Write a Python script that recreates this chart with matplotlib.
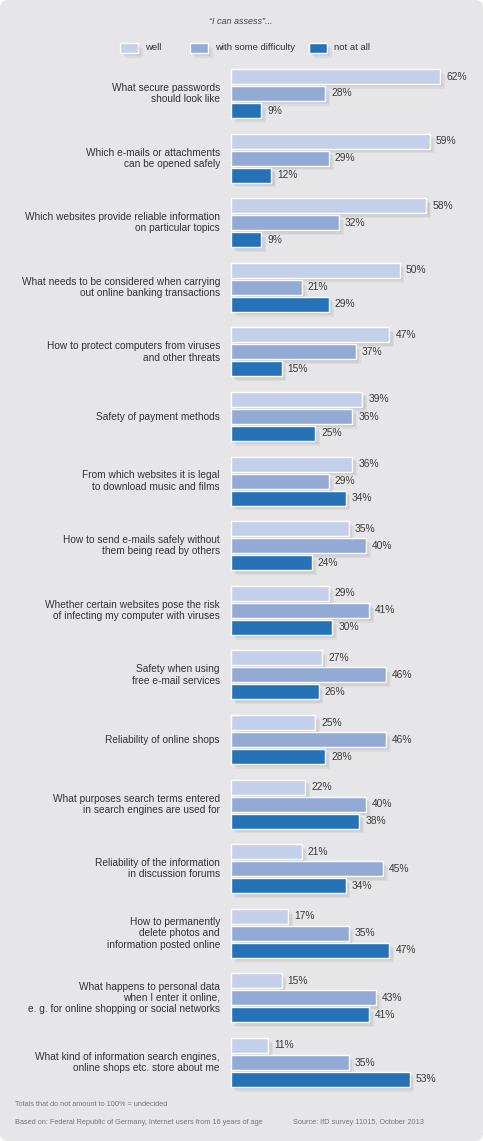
import numpy as np
import matplotlib
matplotlib.use('Agg')
import matplotlib.pyplot as plt
from matplotlib.patches import FancyBboxPatch, Rectangle
import matplotlib.patheffects as pe

plt.rcParams['font.family'] = ['Liberation Sans', 'DejaVu Sans']

# datos
categorias = [
    "What secure passwords\nshould look like",
    "Which e-mails or attachments\ncan be opened safely",
    "Which websites provide reliable information\non particular topics",
    "What needs to be considered when carrying\nout online banking transactions",
    "How to protect computers from viruses\nand other threats",
    "Safety of payment methods",
    "From which websites it is legal\nto download music and films",
    "How to send e-mails safely without\nthem being read by others",
    "Whether certain websites pose the risk\nof infecting my computer with viruses",
    "Safety when using\nfree e-mail services",
    "Reliability of online shops",
    "What purposes search terms entered\nin search engines are used for",
    "Reliability of the information\nin discussion forums",
    "How to permanently\ndelete photos and\ninformation posted online",
    "What happens to personal data\nwhen I enter it online,\ne. g. for online shopping or social networks",
    "What kind of information search engines,\nonline shops etc. store about me",
]
well = [62, 59, 58, 50, 47, 39, 36, 35, 29, 27, 25, 22, 21, 17, 15, 11]
some_difficulty = [28, 29, 32, 21, 37, 36, 29, 40, 41, 46, 46, 40, 45, 35, 43, 35]
not_at_all = [9, 12, 9, 29, 15, 25, 34, 24, 30, 26, 28, 38, 34, 47, 41, 53]
series_names = ["well", "with some difficulty", "not at all"]
colores = ["#c4cfe9", "#93aad5", "#2572b6"]

W, H = 483, 1141
fig = plt.figure(figsize=(W / 100, H / 100), dpi=100)
fig.patch.set_facecolor('white')

# fondo gris redondeado
bg = fig.add_axes([0, 0, 1, 1])
bg.set_xlim(0, W)
bg.set_ylim(H, 0)
bg.axis('off')
bg.add_patch(FancyBboxPatch((3, 3), W - 6, H - 6, boxstyle="round,pad=3,rounding_size=8",
                            fc="#e6e6e8", ec="none"))

px_per_pct = 3.37
group_step = 64.6
bar_step = 17 / group_step
bar_h = 15 / group_step
y0 = 93.5  # centro de la barra del medio del primer grupo (px)

left = 231
ax = fig.add_axes([left / W, 0, (W - left) / W, 1])
ax.set_xlim(0, (W - left) / px_per_pct)
ax.set_ylim((H - y0) / group_step, -y0 / group_step)
ax.axis('off')
ax.patch.set_alpha(0)

# sombra suave (varias capas)
sombra = [pe.SimplePatchShadow(offset=(d, -d), shadow_rgbFace='#777777', alpha=0.09)
          for d in (3.5, 2.5, 1.5)] + [pe.Normal()]

series = [well, some_difficulty, not_at_all]
n = len(categorias)
for j, vals in enumerate(series):
    ys = np.arange(n) + (j - 1) * bar_step
    bars = ax.barh(ys, vals, height=bar_h, left=0, color=colores[j],
                   edgecolor='white', linewidth=1.0, clip_on=False)
    for b in bars:
        b.set_path_effects(sombra)
    for y, v in zip(ys, vals):
        ax.text(v + 1.8, y, f"{v}%", va='center', ha='left', fontsize=7.4, color='#3a3a3a')

for i, cat in enumerate(categorias):
    ax.text(-3.3, i, cat, ha='right', va='center', fontsize=7.3, color='#333333',
            linespacing=1.15, clip_on=False)

# titulo
bg.text(241, 21, "\u201cI can assess\u201d...", ha='center', va='center', fontsize=6.5,
        style='italic', color='#444444')

# leyenda
leg_x = [120, 190, 309]
for x, nombre, c in zip(leg_x, series_names, colores):
    r = Rectangle((x, 43), 18, 10, fc=c, ec='white', lw=1.0)
    r.set_path_effects(sombra)
    bg.add_patch(r)
    bg.text(x + 25, 48, nombre, ha='left', va='center', fontsize=6.8, color='#333333')

# notas
bg.text(15, 1104, "Totals that do not amount to 100% = undecided", ha='left', va='center',
        fontsize=5.3, color='#777777')
bg.text(15, 1122, "Based on: Federal Republic of Germany, Internet users from 16 years of age",
        ha='left', va='center', fontsize=5.3, color='#777777')
bg.text(293, 1122, "Source: IfD survey 11015, October 2013", ha='left', va='center',
        fontsize=5.3, color='#777777')

fig.savefig('out.png', dpi=100)
